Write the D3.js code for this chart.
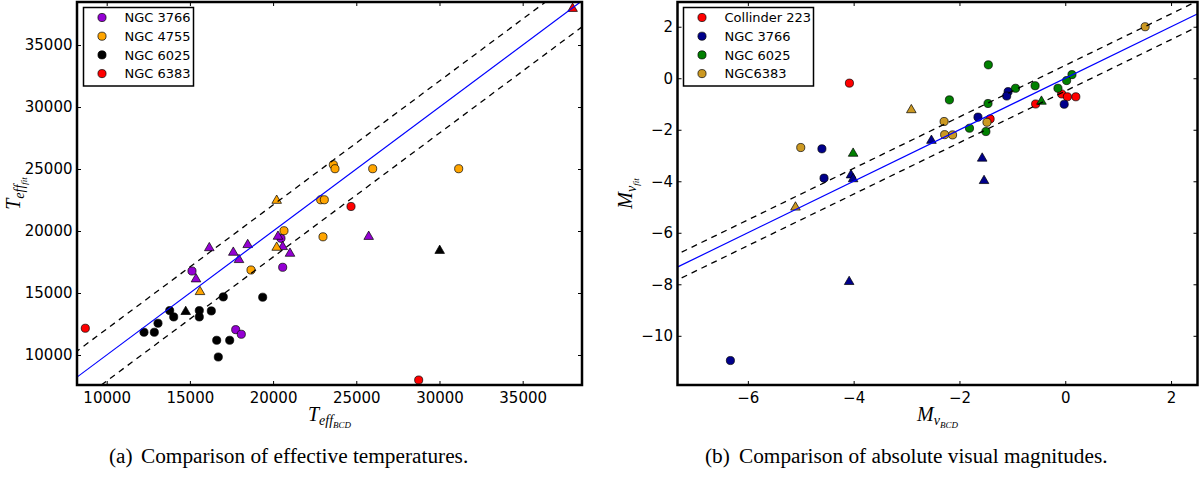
<!DOCTYPE html>
<html><head><meta charset="utf-8">
<script src="https://cdn.jsdelivr.net/npm/d3@7/dist/d3.min.js"></script>
<style>
body{margin:0;background:#fff;}
svg{display:block;}
.tick text{font-family:"DejaVu Sans",sans-serif;font-size:15px;fill:#000;}
</style></head>
<body>
<svg id="c" width="1200" height="477"></svg>
<script>
// ---------- Panel (a): effective temperatures ----------
const tempXTicks = [10000, 15000, 20000, 25000, 30000, 35000];
const tempYTicks = [10000, 15000, 20000, 25000, 30000, 35000];
const tempClusters = ["NGC 3766", "NGC 4755", "NGC 6025", "NGC 6383"];
const tempColors = ["#9400d3", "#ffa500", "#000000", "#ff0000"];
const t3766Circ = [[15126,16774],[20474,19411],[20577,17073],[17753,12044],[18089,11672]];
const t3766Tri  = [[16166,18700],[18474,18952],[17608,18331],[17951,17742],[15367,16185],[20294,19621],[20577,18790],[21016,18250],[25746,19612]];
const t4755Circ = [[23620,25347],[23720,25024],[25986,25024],[31154,25024],[22861,22520],[23078,22520],[20655,20024],[22999,19532],[18672,16855]];
const t4755Tri  = [[20216,22520],[20216,18734],[15607,15161]];
const t6025Circ = [[17007,14685],[19375,14661],[13786,13579],[14027,13070],[15565,13579],[15565,13070],[16287,13554],[13083,12560],[12242,11834],[12861,11834],[16611,11187],[17392,11187],[16707,9838]];
const t6025Tri  = [[14748,13554],[30012,18482]];
const t6383Circ = [[24683,21979],[8714,12157],[28750,7981]];
const t6383Tri  = [[38000,38000]];
const tempOffset = 2100;

// ---------- Panel (b): absolute visual magnitudes ----------
const magXTicks = [-6, -4, -2, 0, 2];
const magYTicks = [-10, -8, -6, -4, -2, 0, 2];
const magClusters = ["Collinder 223", "NGC 3766", "NGC 6025", "NGC6383"];
const magColors = ["#ff0000", "#00008b", "#008000", "#cc9922"];
const mC223Circ = [[-4.08,-0.19],[-0.068,-0.61],[0.04,-0.72],[0.2,-0.72],[-0.56,-1.0],[-1.42,-1.58]];
const mC223Tri  = [];
const m3766Circ = [[-0.02,-1.01],[-1.08,-0.52],[-1.107,-0.69],[-1.65,-1.51],[-4.6,-2.74],[-4.56,-3.88],[-6.33,-10.96]];
const m3766Tri  = [[-1.57,-3.08],[-1.535,-3.95],[-2.53,-2.39],[-4.05,-3.73],[-4.01,-3.88],[-4.085,-7.87]];
const m6025Circ = [[-1.454,0.52],[0.127,0.14],[0.026,-0.09],[-0.138,-0.39],[-0.57,-0.29],[-0.94,-0.39],[-1.46,-0.98],[-1.81,-1.94],[-1.5,-2.07],[-2.19,-0.84]];
const m6025Tri  = [[-0.45,-0.87],[-4.01,-2.89]];
const m6383Circ = [[1.51,2.0],[-1.48,-1.71],[-2.29,-1.68],[-2.28,-2.19],[-2.13,-2.2],[-5.0,-2.69]];
const m6383Tri  = [[-2.91,-1.2],[-5.1,-4.98]];
const magOffset = 0.5;

const svg = d3.select("#c");

function panel(opt){
  const x = d3.scaleLinear().domain(opt.xDom).range([opt.left, opt.right]);
  const y = d3.scaleLinear().domain(opt.yDom).range([opt.bottom, opt.top]);
  const g = svg.append("g");
  const clipId = "clip" + opt.id;
  svg.append("clipPath").attr("id", clipId).append("rect")
    .attr("x", opt.left).attr("y", opt.top)
    .attr("width", opt.right - opt.left).attr("height", opt.bottom - opt.top);

  // markers
  const circ = d3.symbol().type(d3.symbolCircle).size(52);
  const tri = d3.symbol().type(d3.symbolTriangle).size(40);
  const mk = g.append("g").attr("clip-path", `url(#${clipId})`);
  opt.series.forEach((s, i) => {
    mk.selectAll(null).data(s.circ).join("path")
      .attr("d", circ).attr("transform", d => `translate(${x(d[0])},${y(d[1])})`)
      .attr("fill", opt.colors[i]).attr("stroke", "#000").attr("stroke-width", 0.7);
    mk.selectAll(null).data(s.tri).join("path")
      .attr("d", tri).attr("transform", d => `translate(${x(d[0])},${y(d[1]) + 0.8})`)
      .attr("fill", opt.colors[i]).attr("stroke", "#000").attr("stroke-width", 0.7);
  });

  // reference lines y = x and y = x ± offset
  const lx = opt.xDom;
  const lines = g.append("g").attr("clip-path", `url(#${clipId})`);
  const ln = d3.line().x(d => x(d[0])).y(d => y(d[1]));
  const ext = [lx[0] - (lx[1]-lx[0]), lx[1] + (lx[1]-lx[0])];
  lines.append("path").attr("d", ln(ext.map(v => [v, v])))
    .attr("stroke", "#0000ff").attr("stroke-width", 1.2).attr("fill", "none");
  [opt.offset, -opt.offset].forEach(o => {
    lines.append("path").attr("d", ln(ext.map(v => [v, v + o])))
      .attr("stroke", "#000").attr("stroke-width", 1.3).attr("fill", "none")
      .attr("stroke-dasharray", "6,5");
  });

  // axes with inward ticks on all four sides
  const ax = (a) => a.tickSizeInner(-4).tickSizeOuter(0);
  g.append("g").attr("transform", `translate(0,${opt.bottom})`)
    .call(ax(d3.axisBottom(x).tickValues(opt.xTicks).tickFormat(opt.fmt).tickPadding(7)))
    .call(s => s.select(".domain").remove());
  g.append("g").attr("transform", `translate(0,${opt.top})`)
    .call(ax(d3.axisTop(x).tickValues(opt.xTicks).tickFormat("")))
    .call(s => s.select(".domain").remove());
  g.append("g").attr("transform", `translate(${opt.left},0)`)
    .call(ax(d3.axisLeft(y).tickValues(opt.yTicks).tickFormat(opt.fmt).tickPadding(4.5)))
    .call(s => s.select(".domain").remove());
  g.append("g").attr("transform", `translate(${opt.right},0)`)
    .call(ax(d3.axisRight(y).tickValues(opt.yTicks).tickFormat("")))
    .call(s => s.select(".domain").remove());
  g.selectAll(".tick line").attr("stroke", "#000").attr("stroke-width", 1);

  // frame
  g.append("rect").attr("x", opt.left).attr("y", opt.top)
    .attr("width", opt.right - opt.left).attr("height", opt.bottom - opt.top)
    .attr("fill", "none").attr("stroke", "#000").attr("stroke-width", 2.5);

  // legend
  const lg = g.append("g");
  lg.append("rect").attr("x", opt.leg.x).attr("y", 7.5).attr("width", opt.leg.w).attr("height", 78.5)
    .attr("fill", "#fff").attr("stroke", "#000").attr("stroke-width", 1.5);
  opt.names.forEach((n, i) => {
    const yy = 17.5 + i * 18.7;
    lg.append("path").attr("d", circ).attr("transform", `translate(${opt.leg.x + 18.5},${yy})`)
      .attr("fill", opt.colors[i]).attr("stroke", "#000").attr("stroke-width", 0.7);
    lg.append("text").attr("x", opt.leg.x + 41).attr("y", yy + 4.7)
      .attr("font-family", "DejaVu Sans, sans-serif").attr("font-size", 13).text(n);
  });

  // axis labels (math style)
  const xl = g.append("text").attr("x", (opt.left + opt.right) / 2).attr("y", 421)
    .attr("text-anchor", "middle").attr("font-family", "Liberation Serif, serif").attr("font-style", "italic");
  xl.append("tspan").attr("font-size", 20).text(opt.sym);
  xl.append("tspan").attr("font-size", 14).attr("dy", 4).text(opt.sub);
  xl.append("tspan").attr("font-size", 9).attr("dy", 3).text("BCD");

  const ylx = opt.ylab, yly = (opt.top + opt.bottom) / 2;
  const yl = g.append("text").attr("transform", `translate(${ylx},${yly}) rotate(-90)`)
    .attr("text-anchor", "middle").attr("font-family", "Liberation Serif, serif").attr("font-style", "italic");
  yl.append("tspan").attr("font-size", 20).text(opt.sym);
  yl.append("tspan").attr("font-size", 14).attr("dy", 4).text(opt.sub);
  yl.append("tspan").attr("font-size", 9).attr("dy", 3).text("fit");

  // caption
  const cap = g.append("text").attr("y", 463).attr("font-family", "Liberation Serif, serif").attr("font-size", 21.3);
  cap.append("tspan").attr("x", opt.cap.x0).text(opt.cap.a);
  cap.append("tspan").attr("x", opt.cap.x1).text(opt.cap.b);
}

panel({
  id: "a", left: 77, right: 582, top: 2, bottom: 385,
  xDom: [8215, 38565], yDom: [7580, 38470],
  xTicks: tempXTicks, yTicks: tempYTicks, fmt: d3.format("d"),
  names: tempClusters, colors: tempColors,
  series: [
    {circ: t3766Circ, tri: t3766Tri},
    {circ: t4755Circ, tri: t4755Tri},
    {circ: t6025Circ, tri: t6025Tri},
    {circ: t6383Circ, tri: t6383Tri}
  ],
  offset: tempOffset, leg: {x: 83.5, w: 110},
  sym: "T", sub: "eff", ylab: 20,
  cap: {x0: 109, x1: 141, a: "(a)", b: "Comparison of effective temperatures."}
});

panel({
  id: "b", left: 677.5, right: 1197.5, top: 2, bottom: 385,
  xDom: [-7.33, 2.5], yDom: [-11.91, 2.96],
  xTicks: magXTicks, yTicks: magYTicks, fmt: d3.format("d"),
  names: magClusters, colors: magColors,
  series: [
    {circ: mC223Circ, tri: mC223Tri},
    {circ: m3766Circ, tri: m3766Tri},
    {circ: m6025Circ, tri: m6025Tri},
    {circ: m6383Circ, tri: m6383Tri}
  ],
  offset: magOffset, leg: {x: 683.5, w: 130},
  sym: "M", sub: "v", ylab: 632,
  cap: {x0: 705, x1: 739, a: "(b)", b: "Comparison of absolute visual magnitudes."}
});
</script>
</body></html>
